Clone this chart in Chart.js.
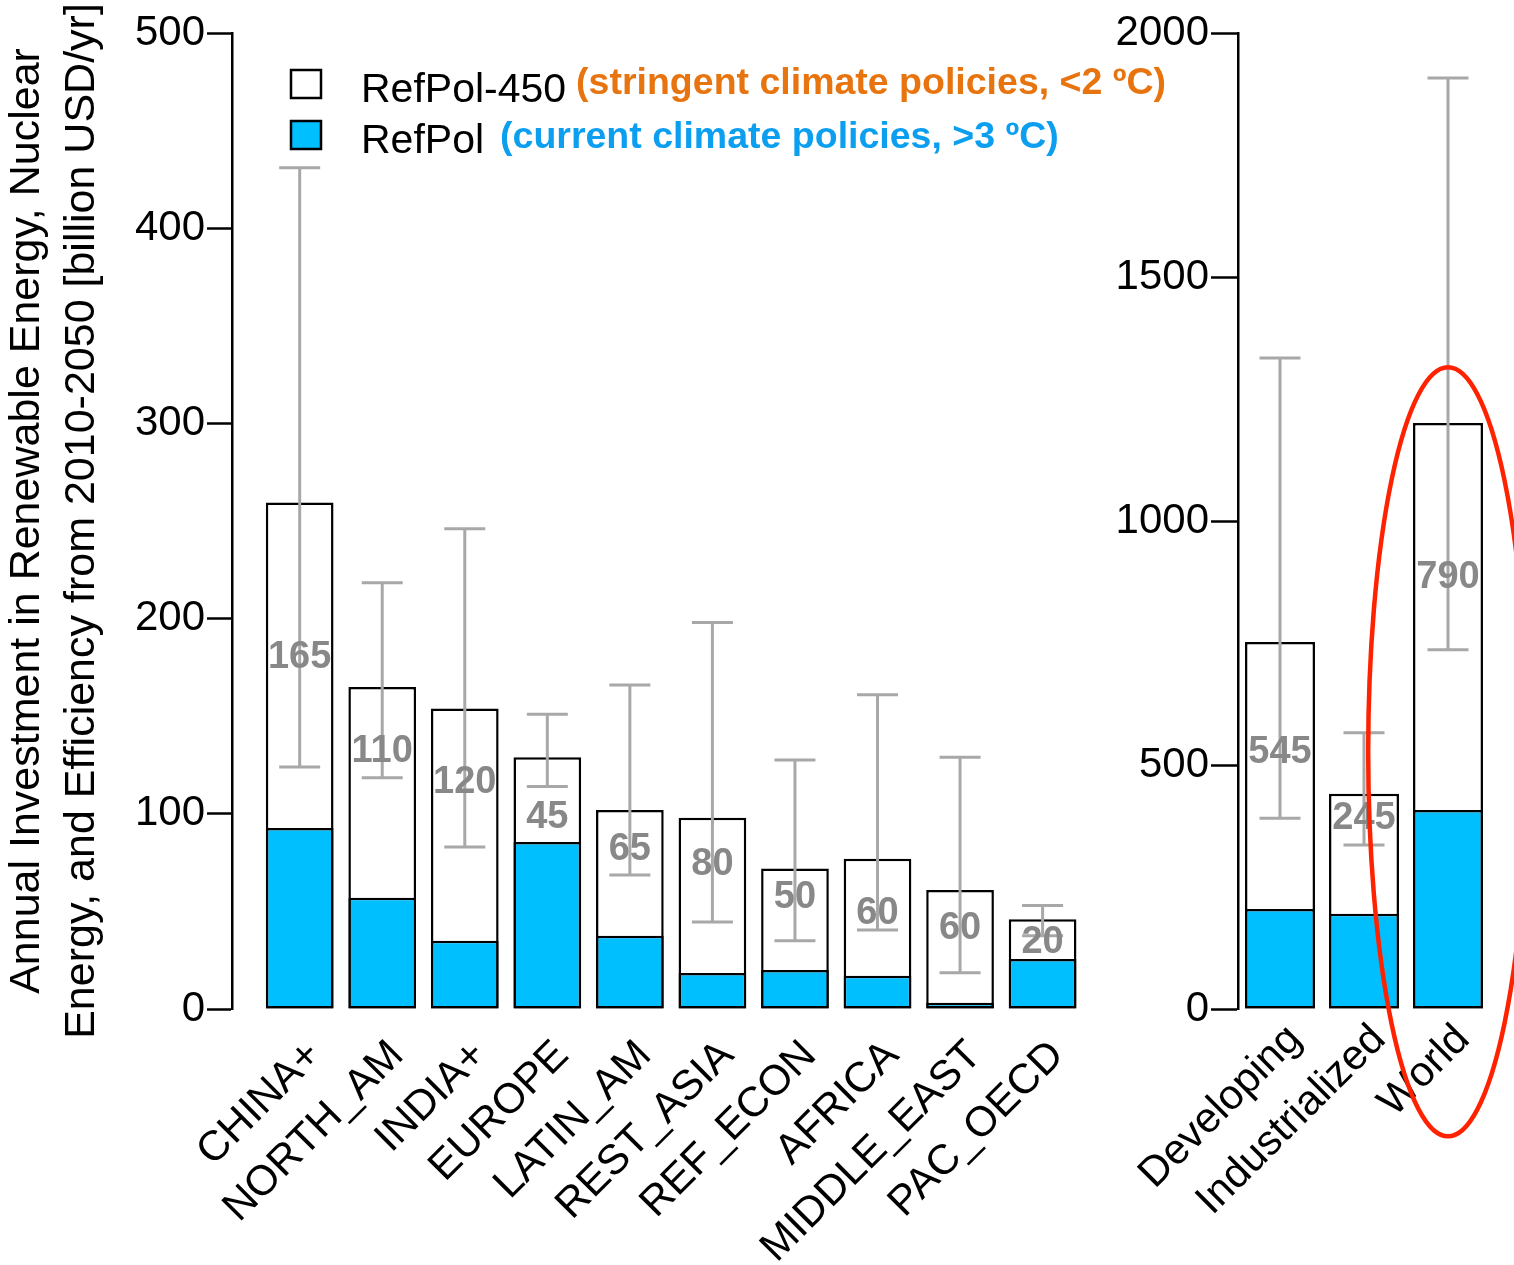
<!DOCTYPE html>
<html>
<head>
<meta charset="utf-8">
<title>Investment in renewables, nuclear and efficiency</title>
<script src="https://cdn.jsdelivr.net/npm/chart.js@4.4.1/dist/chart.umd.min.js"></script>
<style>
  html, body { margin: 0; padding: 0; background: #fff; }
  #wrap { position: relative; width: 1514px; height: 1265px; overflow: hidden; }
  #left { position: absolute; left: 0; top: 0; }
  #right { position: absolute; left: 1110px; top: 0; }
</style>
</head>
<body>
<div id="wrap">
  <canvas id="left" width="1200" height="1265"></canvas>
  <canvas id="right" width="404" height="1265"></canvas>
</div>
<script>
// regions (left panel), billion USD/yr
const regions = ["CHINA+", "NORTH_AM", "INDIA+", "EUROPE", "LATIN_AM", "REST_ASIA", "REF_ECON", "AFRICA", "MIDDLE_EAST", "PAC_OECD"];
const regionRefPol450 = [259.5, 165, 154, 129, 102, 98, 72, 77, 61, 46];
const regionRefPol = [92.7, 57, 35, 85.5, 37.5, 18.4, 20, 17, 3.2, 25.6];
const regionRangeLow = [124, 118.5, 83, 114, 68.6, 44.6, 35, 40.5, 18.6, 37.5];
const regionRangeHigh = [431, 218.4, 246, 151, 166, 198, 127.6, 161, 129, 53];
const regionGap = ["165", "110", "120", "45", "65", "80", "50", "60", "60", "20"];
const regionGapAt = [180, 131.7, 116, 98, 81.5, 74, 57, 49, 41, 34]; // where the gap label sits (data units)

// aggregates (right panel)
const groups = ["Developing", "Industrialized", "World"];
const groupRefPol450 = [752, 441, 1201];
const groupRefPol = [205, 195, 408];
const groupRangeLow = [391, 336, 736];
const groupRangeHigh = [1334, 566, 1908];
const groupGap = ["545", "245", "790"];
const groupGapAt = [525, 391, 885];

// red ring around World
const highlight = { index: 2, center: 527, halfHeight: 788, halfWidth: 0.95 };

const leftTicks = [0, 100, 200, 300, 400, 500];
const rightTicks = [0, 500, 1000, 1500, 2000];

const FONT = "'Liberation Sans', Arial, sans-serif";
const BLUE = "#00bfff";
const labelShift = 0.18;

function barData(values) {
  return values.map((v, i) => ({ x: i, y: v }));
}

const barStyle = {
  borderColor: "#000",
  borderWidth: 2.5,
  borderSkipped: false,
  grouped: false,
  categoryPercentage: 1,
};

// error ranges + gap numbers
const rangesAndGaps = {
  id: "rangesAndGaps",
  afterDatasetsDraw(chart, args, opts) {
    const { ctx, scales: { x, y } } = chart;
    ctx.save();
    ctx.strokeStyle = "#a8a8a8";
    ctx.lineWidth = 3;
    opts.low.forEach((lo, i) => {
      const px = x.getPixelForValue(i);
      const top = y.getPixelForValue(opts.high[i]);
      const bot = y.getPixelForValue(lo);
      ctx.beginPath();
      ctx.moveTo(px, top); ctx.lineTo(px, bot);
      ctx.moveTo(px - 20.5, top); ctx.lineTo(px + 20.5, top);
      ctx.moveTo(px - 20.5, bot); ctx.lineTo(px + 20.5, bot);
      ctx.stroke();
    });
    ctx.fillStyle = "#888";
    ctx.font = "bold 38px " + FONT;
    ctx.textAlign = "center";
    ctx.textBaseline = "middle";
    opts.gaps.forEach((t, i) => {
      ctx.fillText(t, x.getPixelForValue(i), y.getPixelForValue(opts.gapAt[i]));
    });
    ctx.restore();
  },
};

const legendEntries = [
  { name: "RefPol-450", note: "(stringent climate policies, <2 ºC)", fill: "#fff", noteColor: "#e8740f" },
  { name: "RefPol", note: "(current climate policies, >3 ºC)", fill: BLUE, noteColor: "#0c9ff0" },
];

const customLegend = {
  id: "customLegend",
  afterDraw(chart) {
    const ctx = chart.ctx;
    ctx.save();
    legendEntries.forEach((e, i) => {
      const top = 70 + i * 51;
      ctx.fillStyle = e.fill;
      ctx.fillRect(291, top, 30, 28);
      ctx.strokeStyle = "#000";
      ctx.lineWidth = 2.5;
      ctx.strokeRect(291, top, 30, 28);
      ctx.textAlign = "left";
      ctx.textBaseline = "alphabetic";
      ctx.font = "41px " + FONT;
      ctx.fillStyle = "#000";
      ctx.fillText(e.name, 361, top + 32);
      const w = ctx.measureText(e.name).width;
      ctx.font = "bold 37.5px " + FONT;
      ctx.fillStyle = e.noteColor;
      ctx.fillText(e.note, 361 + w + 10 + i * 6, top + 24 + i * 3);
    });
    ctx.restore();
  },
};

const ring = {
  id: "ring",
  afterDraw(chart) {
    const { ctx, scales: { x, y } } = chart;
    const cx = x.getPixelForValue(highlight.index);
    const cy = y.getPixelForValue(highlight.center);
    const ry = cy - y.getPixelForValue(highlight.center + highlight.halfHeight);
    const rx = x.getPixelForValue(highlight.index + highlight.halfWidth) - cx;
    ctx.save();
    ctx.strokeStyle = "#ff2200";
    ctx.lineWidth = 4.5;
    ctx.beginPath();
    ctx.ellipse(cx, cy, rx, ry, 0, 0, Math.PI * 2);
    ctx.stroke();
    ctx.restore();
  },
};

function xAxis(names, min, max, pad) {
  return {
    type: "linear",
    min: min,
    max: max,
    offset: false,
    bounds: "data",
    grid: { display: false, drawTicks: false },
    border: { display: false },
    afterBuildTicks: (s) => { s.ticks = names.map((_, i) => ({ value: i + labelShift })); },
    afterFit: (s) => { s.height = 256; },
    ticks: {
      autoSkip: false,
      minRotation: 45,
      maxRotation: 45,
      padding: pad,
      color: "#000",
      font: { size: 42, family: FONT },
      callback: (v, i) => names[i],
    },
  };
}

function yAxis(max, ticks, width, tickLen, title) {
  return {
    min: 0,
    max: max,
    afterBuildTicks: (s) => { s.ticks = ticks.map((v) => ({ value: v })); },
    afterFit: (s) => { s.width = width; },
    ticks: {
      padding: 2,
      color: "#000",
      font: { size: 42, family: FONT },
      callback: (v) => String(v),
    },
    grid: { drawOnChartArea: false, tickLength: tickLen, tickColor: "#000", tickWidth: 2.5 },
    border: { color: "#000", width: 2.5 },
    title: title
      ? { display: true, text: title, color: "#000", padding: 0, font: { size: 43, family: FONT, lineHeight: 1.28 } }
      : { display: false },
  };
}

new Chart(document.getElementById("left"), {
  type: "bar",
  data: {
    datasets: [
      { label: "RefPol", data: barData(regionRefPol), backgroundColor: BLUE, order: 0, barPercentage: 0.82, ...barStyle },
      { label: "RefPol-450", data: barData(regionRefPol450), backgroundColor: "#fff", order: 1, barPercentage: 0.82, ...barStyle },
    ],
  },
  options: {
    responsive: false,
    animation: false,
    layout: { padding: { top: 33, right: 112, bottom: 0, left: 0 } },
    plugins: {
      legend: { display: false },
      tooltip: { enabled: false },
      rangesAndGaps: { low: regionRangeLow, high: regionRangeHigh, gaps: regionGap, gapAt: regionGapAt },
    },
    scales: {
      x: xAxis(regions, -0.82, 9.55, 22),
      y: yAxis(500, leftTicks, 232, 25, [
        "Annual Investment in Renewable Energy, Nuclear",
        "Energy, and Efficiency from 2010-2050 [billion USD/yr]",
      ]),
    },
  },
  plugins: [rangesAndGaps, customLegend],
});

new Chart(document.getElementById("right"), {
  type: "bar",
  data: {
    datasets: [
      { label: "RefPol", data: barData(groupRefPol), backgroundColor: BLUE, order: 0, barPercentage: 0.833, ...barStyle },
      { label: "RefPol-450", data: barData(groupRefPol450), backgroundColor: "#fff", order: 1, barPercentage: 0.833, ...barStyle },
    ],
  },
  options: {
    responsive: false,
    animation: false,
    layout: { padding: { top: 33, right: 24, bottom: 0, left: 0 } },
    plugins: {
      legend: { display: false },
      tooltip: { enabled: false },
      rangesAndGaps: { low: groupRangeLow, high: groupRangeHigh, gaps: groupGap, gapAt: groupGapAt },
    },
    scales: {
      x: xAxis(groups, -0.5, 2.5, 6),
      y: yAxis(2000, rightTicks, 128, 27, null),
    },
  },
  plugins: [rangesAndGaps, ring],
});
</script>
</body>
</html>
